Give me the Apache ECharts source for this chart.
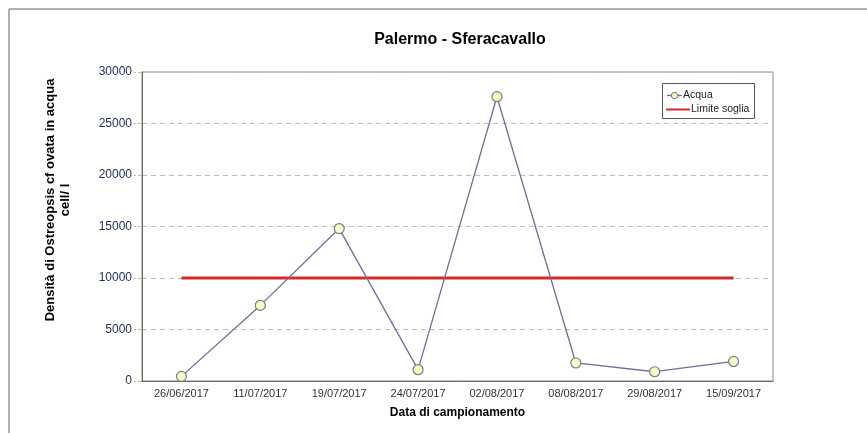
<!DOCTYPE html>
<html><head><meta charset="utf-8">
<script src="https://cdn.jsdelivr.net/npm/echarts@6/dist/echarts.min.js"></script>
<style>html,body{margin:0;padding:0;background:#fff}#c{width:867px;height:433px}</style>
</head><body><div id="c"></div>
<script>
const categories = ['26/06/2017','11/07/2017','19/07/2017','24/07/2017','02/08/2017','08/08/2017','29/08/2017','15/09/2017'];
const acqua = [450, 7340, 14800, 1100, 27600, 1750, 900, 1900];
const limiteSoglia = [10000, 10000, 10000, 10000, 10000, 10000, 10000, 10000];
const yTicks = [0, 5000, 10000, 15000, 20000, 25000, 30000];
const seriesNames = ['Acqua', 'Limite soglia'];

const chart = echarts.init(document.getElementById('c'), null, {renderer:'canvas'});
const legendFont = '10.5px "Liberation Sans"';
chart.setOption({
  backgroundColor:'#fff',
  animation:false,
  title:{text:'Palermo - Sferacavallo', left:455, top:27, textAlign:'center',
    textStyle:{fontFamily:'Liberation Sans', fontSize:16, fontWeight:'bold', color:'#000'}},
  grid:{left:142, right:94, top:72, bottom:52, show:true, borderColor:'#8a8a8a', borderWidth:1},
  legend:{show:false, data:seriesNames},
  xAxis:{type:'category', data:categories, boundaryGap:true,
    axisLine:{lineStyle:{color:'#666'}}, axisTick:{show:false},
    axisLabel:{fontFamily:'Liberation Sans', fontSize:11, color:'#333', margin:7, interval:0},
    name:'Data di campionamento', nameLocation:'middle', nameGap:26,
    nameTextStyle:{fontFamily:'Liberation Sans', fontSize:12, fontWeight:'bold', color:'#000'}},
  yAxis:{type:'value', min:yTicks[0], max:yTicks[yTicks.length-1], interval:5000,
    axisLine:{show:true, lineStyle:{color:'#666'}}, axisTick:{show:true, length:8, lineStyle:{color:'#bbb', type:'dashed'}},
    axisLabel:{fontFamily:'Liberation Sans', fontSize:12, color:'#1f2a55', margin:10, formatter:v => String(v)},
    splitLine:{lineStyle:{color:'#bdbdbd', type:[5,4], width:1}}},
  graphic:[
    {type:'line', shape:{x1:9, y1:9, x2:867, y2:9}, style:{stroke:'#b0b0b0', lineWidth:2}},
    {type:'line', shape:{x1:9, y1:9, x2:9, y2:433}, style:{stroke:'#b0b0b0', lineWidth:2}},
    {type:'text', x:50, y:200, rotation:Math.PI/2, style:{text:'Densità di Ostreopsis cf ovata in acqua', x:0, y:0,
      textAlign:'center', textVerticalAlign:'middle', font:'bold 13px "Liberation Sans"', fill:'#000'}},
    {type:'text', x:65, y:200, rotation:Math.PI/2, style:{text:'cell/ l', x:0, y:0,
      textAlign:'center', textVerticalAlign:'middle', font:'bold 13px "Liberation Sans"', fill:'#000'}},
    // legend
    {type:'rect', z:10, shape:{x:662.5, y:83.5, width:92, height:35}, style:{fill:'#fff', stroke:'#555', lineWidth:1}},
    {type:'line', z:11, shape:{x1:667, y1:95.5, x2:682, y2:95.5}, style:{stroke:'#6e6e9c', lineWidth:1.3}},
    {type:'circle', z:12, shape:{cx:674.5, cy:95.5, r:3.2}, style:{fill:'#fbfbc4', stroke:'#6e6e7e', lineWidth:1}},
    {type:'text', z:12, x:683, y:95.5, style:{text:seriesNames[0], font:legendFont, fill:'#222', textVerticalAlign:'middle'}},
    {type:'line', z:11, shape:{x1:666, y1:109.5, x2:690, y2:109.5}, style:{stroke:'#d42a2a', lineWidth:2}},
    {type:'text', z:12, x:691, y:109.5, style:{text:seriesNames[1], font:legendFont, fill:'#222', textVerticalAlign:'middle'}}
  ],
  series:[
    {name:seriesNames[1], type:'line', data:limiteSoglia, symbol:'none', z:2,
      lineStyle:{color:'#d42a2a', width:3}, itemStyle:{color:'#d42a2a'}},
    {name:seriesNames[0], type:'line', data:acqua, symbol:'circle', symbolSize:10, z:3,
      lineStyle:{color:'#6e6e9c', width:1.3},
      itemStyle:{color:'#fbfbc4', borderColor:'#7a7a8a', borderWidth:1.2}}
  ]
});
</script></body></html>
